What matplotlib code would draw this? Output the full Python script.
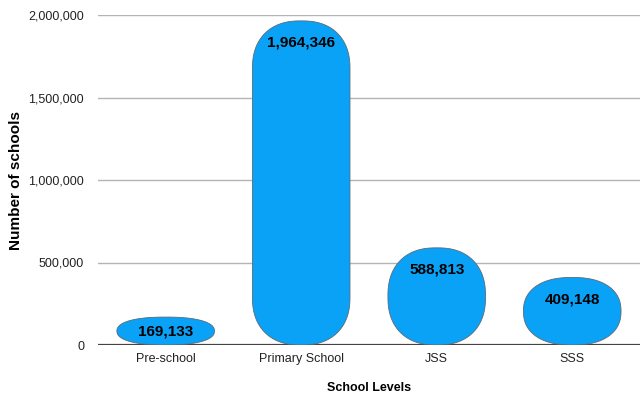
import numpy as np
import matplotlib.pyplot as plt
from matplotlib.patches import Polygon
from matplotlib.ticker import FuncFormatter

plt.rcParams['font.family'] = ['Liberation Sans', 'DejaVu Sans']

levels = ["Pre-school", "Primary School", "JSS", "SSS"]
schools = [169133, 1964346, 588813, 409148]

bar_color = "#0aa2f7"
bar_width = 0.72
corner_px = 48

fig = plt.figure(figsize=(6.4, 4.0), dpi=100)
ax = fig.add_axes([0.153, 0.1375, 0.847, 0.825])
ax.set_xlim(-0.5, len(levels) - 0.5)
ax.set_ylim(0, 2_000_000)

# pixel -> data scale, used for the rounded corners and label offsets
ax_w_px = fig.get_figwidth() * fig.dpi * 0.847
ax_h_px = fig.get_figheight() * fig.dpi * 0.825
px_x = len(levels) / ax_w_px
px_y = 2_000_000 / ax_h_px


def rounded_bar(xc, h, n=2.3):
    x0, x1 = xc - bar_width / 2, xc + bar_width / 2
    rx = min(corner_px * px_x, bar_width / 2)
    ry = min(corner_px * px_y, h / 2)
    t = np.linspace(0, np.pi / 2, 40)
    pts = []
    # squircle corners: top-right, top-left, bottom-left, bottom-right
    for cx, cy, a0 in [(x1 - rx, h - ry, 0), (x0 + rx, h - ry, np.pi / 2),
                       (x0 + rx, ry, np.pi), (x1 - rx, ry, 3 * np.pi / 2)]:
        a = a0 + t
        c, s = np.cos(a), np.sin(a)
        ex = np.sign(c) * np.abs(c) ** (2 / n)
        ey = np.sign(s) * np.abs(s) ** (2 / n)
        pts.append(np.column_stack([cx + rx * ex, cy + ry * ey]))
    return Polygon(np.vstack(pts), closed=True, facecolor=bar_color,
                   edgecolor="#5a6a78", linewidth=0.6, zorder=3)


for i, v in enumerate(schools):
    ax.add_patch(rounded_bar(i, v))
    dy = min(22 * px_y, v / 2)
    ax.text(i, v - dy, f"{v:,}", ha="center", va="center",
            fontsize=11, fontweight="bold", color="black", zorder=4)

ax.set_yticks(np.arange(0, 2_000_001, 500_000))
ax.yaxis.set_major_formatter(FuncFormatter(lambda y, _: f"{int(y):,}"))
ax.set_xticks(range(len(levels)))
ax.set_xticklabels(levels)
ax.tick_params(axis="both", length=0, labelsize=9, labelcolor="#222222")
ax.tick_params(axis="y", pad=10)
ax.tick_params(axis="x", pad=6)

ax.grid(axis="y", color="#b4b4b4", linewidth=1.0, zorder=0)
ax.axhline(0, color="#444444", linewidth=1.6, zorder=2)
for s in ax.spines.values():
    s.set_visible(False)

ax.set_xlabel("School Levels", fontsize=9, fontweight="bold", labelpad=12)
ax.set_ylabel("Number of schools", fontsize=11, fontweight="bold")
ax.yaxis.set_label_coords(-0.138, 0.5)

fig.savefig("out.png", dpi=100)
